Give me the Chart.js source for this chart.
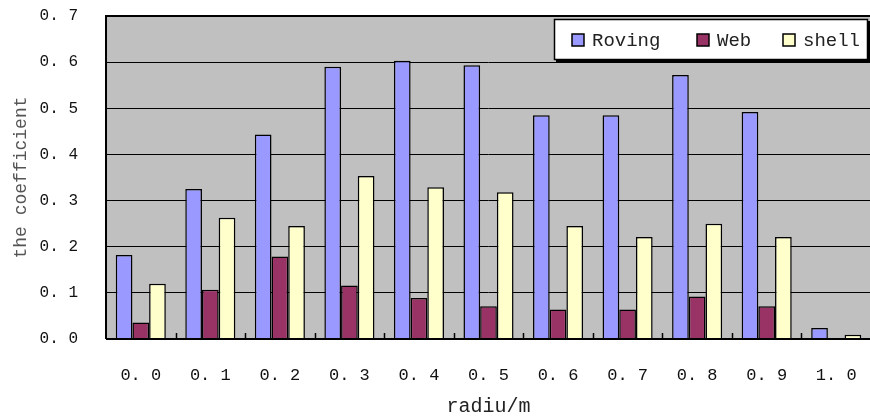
<!DOCTYPE html>
<html>
<head>
<meta charset="utf-8">
<script src="https://cdn.jsdelivr.net/npm/chart.js@4/dist/chart.umd.min.js"></script>
<style>
  html, body { margin: 0; padding: 0; background: #fff; }
  #wrap { width: 870px; height: 417px; overflow: hidden; }
</style>
</head>
<body>
<div id="wrap"><canvas id="barChart" width="876" height="417"></canvas></div>
<script>
// data
const categories = ['0.0', '0.1', '0.2', '0.3', '0.4', '0.5', '0.6', '0.7', '0.8', '0.9', '1.0'];
const roving = [0.182, 0.325, 0.443, 0.590, 0.603, 0.593, 0.485, 0.485, 0.572, 0.492, 0.024];
const web = [0.036, 0.107, 0.179, 0.116, 0.089, 0.071, 0.064, 0.064, 0.092, 0.071, 0];
const shell = [0.120, 0.263, 0.245, 0.353, 0.329, 0.318, 0.245, 0.221, 0.250, 0.221, 0.009];
const seriesNames = ['Roving', 'Web', 'shell'];
const yMin = 0, yMax = 0.7, yStep = 0.1;

const colors = ['#9999FF', '#993366', '#FFFFCC'];
const mono = "'Liberation Mono', 'DejaVu Sans Mono', monospace";

// grey plot background
const plotBg = {
  id: 'plotBg',
  beforeDraw(chart) {
    const a = chart.chartArea;
    const ctx = chart.ctx;
    ctx.save();
    ctx.fillStyle = '#C0C0C0';
    ctx.fillRect(a.left, a.top, a.right - a.left, a.bottom - a.top);
    ctx.restore();
  }
};

// small tick marks between categories, pointing up into the plot, plus frame
const innerTicks = {
  id: 'innerTicks',
  afterDatasetsDraw(chart) {
    const x = chart.scales.x;
    const a = chart.chartArea;
    const ctx = chart.ctx;
    ctx.save();
    ctx.strokeStyle = '#000';
    ctx.lineWidth = 1.5;
    for (let i = 1; i < categories.length; i++) {
      const px = Math.round((x.getPixelForValue(i - 1) + x.getPixelForValue(i)) / 2) + 0.5;
      ctx.beginPath();
      ctx.moveTo(px, a.bottom);
      ctx.lineTo(px, a.bottom - 6);
      ctx.stroke();
    }
    ctx.lineWidth = 2;
    ctx.beginPath();
    ctx.moveTo(a.left, a.bottom);
    ctx.lineTo(a.left, a.top);
    ctx.lineTo(a.right, a.top);
    ctx.stroke();
    ctx.beginPath();
    ctx.moveTo(a.left, a.bottom);
    ctx.lineTo(a.right, a.bottom);
    ctx.stroke();
    ctx.restore();
  }
};

// legend box inside the plot, top right
const legendBox = {
  id: 'legendBox',
  afterDraw(chart) {
    const ctx = chart.ctx;
    const bx = 554, by = 19, bw = 314, bh = 41;
    ctx.save();
    ctx.fillStyle = '#000';
    ctx.fillRect(bx + 2, by + 2, bw, bh);
    ctx.fillStyle = '#fff';
    ctx.fillRect(bx, by, bw, bh);
    ctx.strokeStyle = '#000';
    ctx.lineWidth = 1.5;
    ctx.strokeRect(bx + 0.5, by + 0.5, bw - 1, bh - 1);
    const offs = [18, 143, 229];
    ctx.font = '19px ' + mono;
    ctx.textBaseline = 'middle';
    chart.data.datasets.forEach((ds, i) => {
      const sx = bx + offs[i];
      const sy = by + 15;
      ctx.fillStyle = ds.backgroundColor;
      ctx.fillRect(sx, sy, 12, 12);
      ctx.lineWidth = 1.5;
      ctx.strokeStyle = '#000';
      ctx.strokeRect(sx, sy, 12, 12);
      ctx.fillStyle = '#222';
      ctx.fillText(ds.label, sx + 20, sy + 7);
    });
    ctx.restore();
  }
};

const ctx = document.getElementById('barChart').getContext('2d');
new Chart(ctx, {
  type: 'bar',
  data: {
    labels: categories,
    datasets: [roving, web, shell].map((d, i) => ({
      label: seriesNames[i],
      data: d,
      backgroundColor: colors[i],
      borderColor: '#000',
      borderWidth: 1.5,
      categoryPercentage: 0.72,
      barPercentage: 1
    }))
  },
  options: {
    responsive: false,
    animation: false,
    layout: { padding: { left: 6, top: 16, right: 5, bottom: 0 } },
    scales: {
      x: {
        grid: {
          display: true, drawOnChartArea: false, drawTicks: true,
          tickLength: 20, color: 'rgba(0,0,0,0)', tickColor: 'rgba(0,0,0,0)'
        },
        border: { display: false },
        ticks: {
          padding: 6,
          color: '#111',
          font: { family: mono, size: 17 },
          callback: function (v) { return categories[v].replace('.', '. '); }
        },
        title: {
          display: true,
          text: 'radiu/m',
          color: '#222',
          font: { family: mono, size: 20, lineHeight: 1 },
          padding: { top: 5.6, bottom: 0 }
        }
      },
      y: {
        min: yMin,
        max: yMax,
        grid: { color: '#000', lineWidth: 1, drawTicks: true, tickLength: 22, tickColor: 'rgba(0,0,0,0)' },
        border: { display: false },
        ticks: {
          stepSize: yStep,
          padding: 6,
          color: '#111',
          font: { family: mono, size: 16 },
          callback: function (v) { return v.toFixed(1).replace('.', '. '); }
        },
        title: {
          display: true,
          text: 'the coefficient',
          color: '#555',
          font: { family: mono, size: 18 },
          padding: { top: 4, bottom: 2 }
        }
      }
    },
    plugins: {
      legend: { display: false },
      tooltip: { enabled: false }
    }
  },
  plugins: [plotBg, innerTicks, legendBox]
});
</script>
</body>
</html>
